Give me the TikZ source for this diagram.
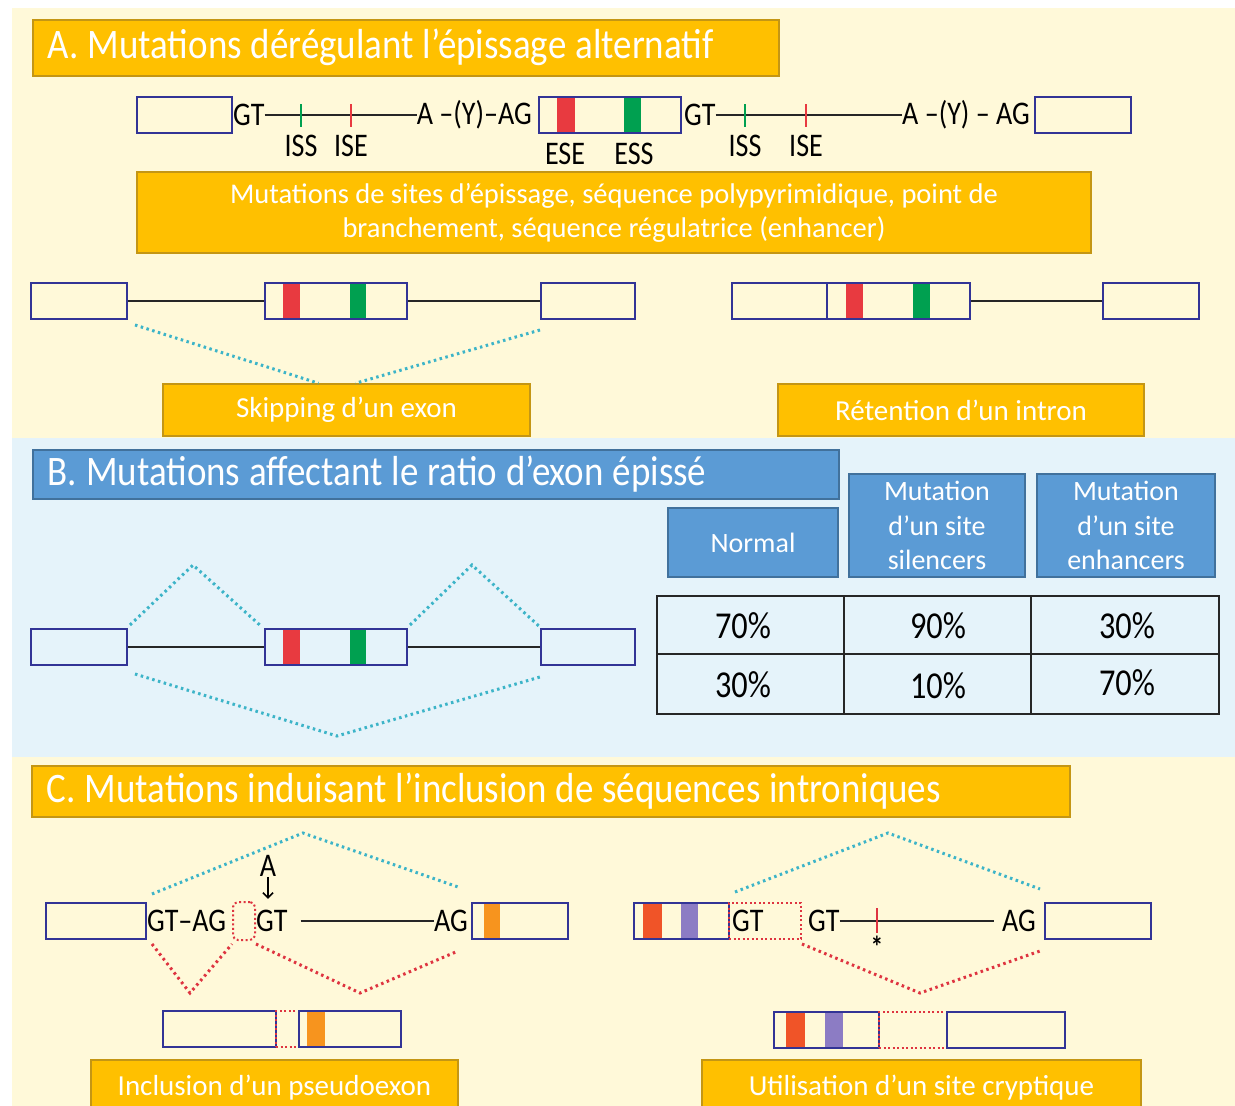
\documentclass[tikz,border=0pt]{standalone}
\usepackage{fontspec}
\setmainfont{Carlito}
\newfontfamily\genefont[FakeStretch=0.85]{Carlito}
\newfontfamily\titlefont[FakeStretch=0.88]{Carlito}
\newcommand\titlespacing{\spaceskip=9pt plus 1pt minus 1pt\relax}
\usetikzlibrary{arrows.meta}
\definecolor{bgyellow}{RGB}{255,249,217}
\definecolor{bgblue}{RGB}{229,243,250}
\definecolor{gold}{RGB}{255,192,0}
\definecolor{goldline}{RGB}{196,150,20}
\definecolor{boxblue}{RGB}{91,155,213}
\definecolor{blueline}{RGB}{65,113,156}
\definecolor{exonblue}{RGB}{50,52,150}
\definecolor{bandred}{RGB}{232,58,64}
\definecolor{bandgreen}{RGB}{0,160,80}
\definecolor{bandorange}{RGB}{247,148,30}
\definecolor{bandvermil}{RGB}{240,84,40}
\definecolor{bandpurple}{RGB}{140,124,196}
\definecolor{splicecyan}{RGB}{60,180,200}
\definecolor{splicered}{RGB}{222,52,64}
\tikzset{
    exon/.style={draw=exonblue, line width=2pt, inner sep=0pt, minimum height=36pt, anchor=west},
    goldbox/.style={draw=goldline, fill=gold, line width=1.5pt, text=white, inner sep=0pt, align=center, font=\fontsize{29}{34}\selectfont},
    bluebox/.style={draw=blueline, fill=boxblue, line width=1.5pt, text=white, inner sep=0pt, align=center, font=\fontsize{28}{34.5}\selectfont},
    sectitle/.style={anchor=north west, align=left, inner xsep=15pt, inner ysep=0pt, font=\titlefont\fontsize{42}{46}\selectfont, execute at begin node=\titlespacing},
    seq/.style={inner sep=0pt, font=\genefont\fontsize{33}{36}\selectfont},
    pct/.style={inner sep=0pt, font=\genefont\fontsize{38}{40}\selectfont},
    intron/.style={draw=black!85, line width=2pt},
    splice/.style={draw=splicecyan, line width=3pt, dash pattern=on 2.5pt off 3.5pt},
    missplice/.style={draw=splicered, line width=3pt, dash pattern=on 2.5pt off 3.5pt},
    cryptic/.style={draw=splicered, line width=2pt, dash pattern=on 2pt off 2.5pt, inner sep=0pt, minimum height=36pt, anchor=west},
    tableline/.style={draw=black!85, line width=2pt}
}

\begin{document}
\begin{tikzpicture}[x=1pt, y=-1pt]
    \useasboundingbox (0,0) rectangle (1235,1106);
    % backgrounds of the three parts
    \fill[bgyellow] (12,8) rectangle (1235,438);
    \fill[bgblue] (12,438) rectangle (1235,757);
    \fill[bgyellow] (12,757) rectangle (1235,1106);

    % ---------------- A ----------------
    \node[goldbox, sectitle, text width=716pt, minimum height=56pt] (titA) at (32,19) {A. Mutations dérégulant l’épissage alternatif};

    \fill[bandred] (557,97) rectangle (575,133);
    \fill[bandgreen] (624,97) rectangle (641,133);
    \node[exon, minimum width=95pt] (a1) at (136,115) {};
    \node[seq, anchor=west] (gt1) at (233,115) {GT};
    \node[seq, anchor=east] (ayag1) at (532,115) {A –(Y)–AG};
    \node[exon, minimum width=142pt] (a2) at (538,115) {};
    \node[seq, anchor=west] (gt2) at (684,115) {GT};
    \node[seq, anchor=east] (ayag2) at (1030,115) {A –(Y) – AG};
    \node[exon, minimum width=96pt] (a3) at (1034,115) {};
    \draw[intron] (gt1.east) -- (ayag1.west);
    \draw[intron] (gt2.east) -- (ayag2.west);
    \draw[bandgreen, line width=2pt] (301,104) -- (301,127);
    \draw[bandred, line width=2pt] (351,104) -- (351,127);
    \draw[bandgreen, line width=2pt] (745,104) -- (745,127);
    \draw[bandred, line width=2pt] (806,104) -- (806,127);
    \node[seq] (iss1) at (301,146) {ISS};
    \node[seq] (ise1) at (351,146) {ISE};
    \node[seq] (ese) at (565,154) {ESE};
    \node[seq] (ess) at (634,154) {ESS};
    \node[seq] (iss2) at (745,146) {ISS};
    \node[seq] (ise2) at (806,146) {ISE};

    \node[goldbox, minimum width=954pt, minimum height=81pt, font=\fontsize{28.5}{34}\selectfont] (mut) at (614,212.5) {Mutations de sites d’épissage, séquence polypyrimidique, point de\\branchement, séquence régulatrice (enhancer)};

    % skipping
    \fill[bandred] (283,284) rectangle (300,319);
    \fill[bandgreen] (350,284) rectangle (366,319);
    \node[exon, minimum width=96pt] (s1) at (30,301) {};
    \node[exon, minimum width=142pt] (s2) at (264,301) {};
    \node[exon, minimum width=94pt] (s3) at (540,301) {};
    \draw[intron] (s1.east) -- (s2.west);
    \draw[intron] (s2.east) -- (s3.west);
    \node[goldbox, minimum width=367pt, minimum height=52pt] (skip) at (346.5,410) {Skipping d’un exon};
    \draw[splice] ([shift={(7,5)}]s1.south east) -- ([xshift=-28pt]skip.north);
    \draw[splice] ([shift={(0,10)}]s3.south west) -- ([xshift=9pt]skip.north);

    % retention
    \fill[bandred] (846,284) rectangle (863,319);
    \fill[bandgreen] (913,284) rectangle (930,319);
    \node[exon, minimum width=95pt] (r1) at (731,301) {};
    \node[exon, minimum width=143pt] (r2) at (826,301) {};
    \node[exon, minimum width=96pt] (r3) at (1102,301) {};
    \draw[intron] (r2.east) -- (r3.west);
    \node[goldbox, minimum width=366pt, minimum height=52pt] (ret) at (961,410) {Rétention d’un intron};

    % ---------------- B ----------------
    \node[bluebox, sectitle, text width=776pt, minimum height=49pt] (titB) at (32,449) {B. Mutations affectant le ratio d’exon épissé};
    \node[bluebox, minimum width=170pt, minimum height=69pt] (hnorm) at (753,542.5) {Normal};
    \node[bluebox, minimum width=176pt, minimum height=103pt] (hsil) at (937,525.5) {Mutation\\d’un site\\silencers};
    \node[bluebox, minimum width=178pt, minimum height=103pt] (henh) at (1126,525.5) {Mutation\\d’un site\\enhancers};

    \fill[bandred] (283,630) rectangle (300,665);
    \fill[bandgreen] (350,630) rectangle (366,665);
    \node[exon, minimum width=96pt] (q1) at (30,647) {};
    \node[exon, minimum width=142pt] (q2) at (264,647) {};
    \node[exon, minimum width=94pt] (q3) at (540,647) {};
    \draw[intron] (q1.east) -- (q2.west);
    \draw[intron] (q2.east) -- (q3.west);
    \coordinate (top1) at (193,565);
    \coordinate (top2) at (472,565);
    \coordinate (low1) at (337,736);
    \draw[splice] ([shift={(2,-3)}]q1.north east) -- (top1) -- ([shift={(-2,-1)}]q2.north west);
    \draw[splice] ([shift={(2,-3)}]q2.north east) -- (top2) -- ([shift={(0,-1)}]q3.north west);
    \draw[splice] ([shift={(7,8)}]q1.south east) -- (low1) -- ([shift={(0,11)}]q3.south west);

    % ratio table
    \draw[tableline] (657,596) rectangle (1219,714);
    \draw[tableline] (657,654) -- (1219,654);
    \draw[tableline] (844,596) -- (844,714);
    \draw[tableline] (1031,596) -- (1031,714);
    \node[pct] (n1) at (743,626) {70\%};
    \node[pct] (s1p) at (938,626) {90\%};
    \node[pct] (e1p) at (1127,626) {30\%};
    \node[pct] (n2) at (743,685) {30\%};
    \node[pct] (s2p) at (938,686) {10\%};
    \node[pct] (e2p) at (1127,683) {70\%};

    % ---------------- C ----------------
    \node[goldbox, sectitle, text width=1008pt, minimum height=51pt] (titC) at (31,765) {C. Mutations induisant l’inclusion de séquences introniques};

    % pseudoexon
    \fill[bandorange] (484,904) rectangle (500,939);
    \node[exon, minimum width=100pt] (c1) at (45,921) {};
    \node[seq, anchor=west] (gtag) at (147,921) {GT–AG};
    \node[cryptic, rounded corners=5pt, minimum width=22pt, minimum height=38pt] (pe) at (232,921) {};
    \node[seq, anchor=west] (gt3) at (256,921) {GT};
    \node[seq] (mutA) at (268,866) {A};
    \draw[-{Straight Barb[length=5pt]}, line width=1.5pt] (mutA.south) -- ++(0,22);
    \node[seq, anchor=east] (ag1) at (468,921) {AG};
    \node[exon, minimum width=96pt] (c2) at (471,921) {};
    \draw[intron, shorten <=13pt] (gt3.east) -- (ag1.west);
    \coordinate (ctop1) at (303,833);
    \coordinate (cbot1) at (190,993);
    \coordinate (cbot2) at (360,993);
    \draw[splice] ([shift={(5,-8)}]c1.north east) -- (ctop1) -- ([shift={(-13,-15)}]c2.north west);
    \draw[missplice] ([shift={(5,4)}]c1.south east) -- (cbot1) -- ([shift={(0,3)}]pe.south west);
    \draw[missplice] ([shift={(0,3)}]pe.south east) -- (cbot2) -- ([shift={(-13,11)}]c2.south west);

    \fill[bandorange] (307,1012) rectangle (325,1047);
    \node[exon, minimum width=113pt] (d1) at (162,1029) {};
    \node[cryptic, minimum width=23pt] (pd) at (275,1029) {};
    \node[exon, minimum width=102pt] (d2) at (298,1029) {};
    \node[goldbox, minimum width=367pt, minimum height=56pt] (incl) at (274.5,1088) {Inclusion d’un pseudoexon};

    % cryptic site
    \fill[bandvermil] (643,904) rectangle (662,939);
    \fill[bandpurple] (681,904) rectangle (698,939);
    \node[exon, minimum width=95pt] (e1) at (633,921) {};
    \node[cryptic, minimum width=72pt] (cr) at (728,921) {};
    \node[seq, anchor=west] (gt4) at (732,921) {GT};
    \node[seq, anchor=west] (gt5) at (808,921) {GT};
    \node[seq, anchor=east] (ag2) at (1036,921) {AG};
    \node[exon, minimum width=106pt] (e2) at (1044,921) {};
    \draw[intron, shorten >=8pt] (gt5.east) -- (ag2.west);
    \draw[splicered, line width=2pt] (877,908) -- (877,933);
    \node[seq, font=\genefont\bfseries\fontsize{30}{30}\selectfont] (star) at (877,947) {*};
    \coordinate (ctop2) at (888,833);
    \coordinate (cbot3) at (920,993);
    \draw[splice] ([shift={(5,-10)}]e1.north east) -- (ctop2) -- ([shift={(-4,-13)}]e2.north west);
    \draw[missplice] ([shift={(0,4)}]cr.south east) -- (cbot3) -- ([shift={(-4,11)}]e2.south west);

    \fill[bandvermil] (786,1013) rectangle (805,1048);
    \fill[bandpurple] (825,1013) rectangle (843,1048);
    \node[exon, minimum width=105pt] (f1) at (773,1030) {};
    \node[cryptic, minimum width=68pt] (fd) at (878,1030) {};
    \node[exon, minimum width=118pt] (f2) at (946,1030) {};
    \node[goldbox, minimum width=439pt, minimum height=56pt] (util) at (921.5,1088) {Utilisation d’un site cryptique};
\end{tikzpicture}
\end{document}
